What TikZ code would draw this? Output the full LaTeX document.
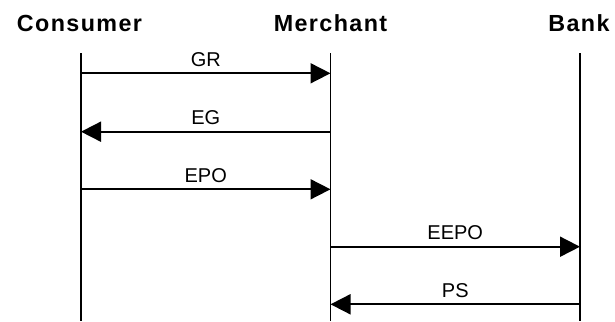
\documentclass[tikz,border=0pt]{standalone}
\usepackage{fontspec}
\setmainfont{Liberation Sans}
\newfontfamily\headfont[LetterSpace=6]{Liberation Sans}
\usetikzlibrary{arrows.meta,calc}
\tikzset{
  hdr/.style={font=\headfont\bfseries\fontsize{23.3}{26}\selectfont, anchor=base, inner sep=0pt},
  lbl/.style={font=\fontsize{20}{23}\selectfont, anchor=base, inner sep=0pt},
  life/.style={line width=1.8pt, black},
  msg/.style={line width=1.8pt, black, -{Triangle[length=20pt,width=20pt]}}
}
\begin{document}
\begin{tikzpicture}[x=1pt,y=-1pt]
\useasboundingbox (0,0) rectangle (615,321);
% headers
\node[hdr] (cons) at (79.5,31.7) {Consumer};
\node[hdr] (merc) at (330.5,31.7) {Merchant};
\node[hdr] (bank) at (579,31.7) {Bank};
% lifelines
\coordinate (cT) at (81,53.5);  \coordinate (cB) at (81,321);
\coordinate (mT) at (330.5,53.5); \coordinate (mB) at (330.5,321);
\coordinate (bT) at (580,53.5); \coordinate (bB) at (580,321);
\draw[life] (cT) -- (cB);
\draw[life] (mT) -- (mB);
\draw[life] (bT) -- (bB);
% message points
\coordinate (c1) at (81,73.3);   \coordinate (m1) at (330.5,73.3);
\coordinate (c2) at (81,131.7);  \coordinate (m2) at (330.5,131.7);
\coordinate (c3) at (81,189.3);  \coordinate (m3) at (330.5,189.3);
\coordinate (m4) at (330.5,246.7); \coordinate (b4) at (580,246.7);
\coordinate (m5) at (330.5,304.3); \coordinate (b5) at (580,304.3);
% messages
\draw[msg] (c1) -- (m1);
\draw[msg] (m2) -- (c2);
\draw[msg] (c3) -- (m3);
\draw[msg] (m4) -- (b4);
\draw[msg] (b5) -- (m5);
% labels
\node[lbl] (lGR) at ($(c1)!0.5!(m1)+(0,-7.2)$) {GR};
\node[lbl] (lEG) at ($(c2)!0.5!(m2)+(0,-7.2)$) {EG};
\node[lbl] (lEPO) at ($(c3)!0.5!(m3)+(0,-7.2)$) {EPO};
\node[lbl] (lEEPO) at ($(m4)!0.5!(b4)+(0,-7.2)$) {EEPO};
\node[lbl] (lPS) at ($(m5)!0.5!(b5)+(0,-7.2)$) {PS};
\end{tikzpicture}
\end{document}
